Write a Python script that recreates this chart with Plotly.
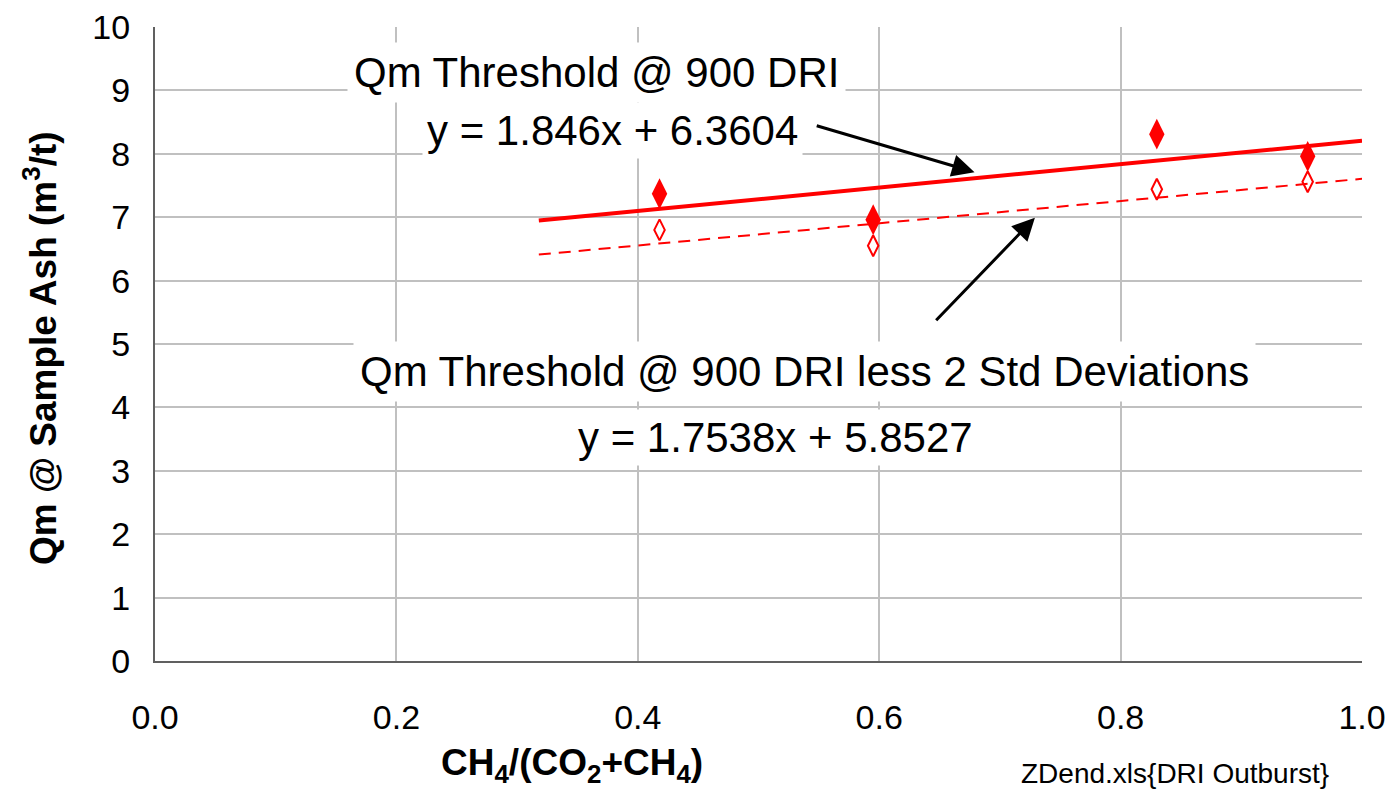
import plotly.graph_objects as go

# data
ratio_x = [0.418, 0.595, 0.830, 0.955]
qm_threshold = [7.37, 6.96, 8.31, 7.96]
qm_less_2sd = [6.80, 6.55, 7.44, 7.56]

trend_x = [0.318, 1.0]
trend_solid_y = [6.947, 8.206]
trend_dash_y = [6.410, 7.606]

x_ticks = [0.0, 0.2, 0.4, 0.6, 0.8, 1.0]
y_ticks = list(range(0, 11))

FONT = "Liberation Sans, Arial, sans-serif"
RED = "#ff0000"

# page body has an 8px margin; figure sized so the plot lands where the reference has it
OFF = 8
W, H = 1395 - OFF, 789 - OFF
L, R, T, B = 155 - OFF, 33, 27 - OFF, 128
pw, ph = W - L - R, H - T - B


def px_x(p):
    return (p - OFF - L) / pw


def px_y(p):
    return (H - B - (p - OFF)) / ph


fig = go.Figure()
fig.add_trace(go.Scatter(x=trend_x, y=trend_solid_y, mode="lines",
                         line=dict(color=RED, width=4), showlegend=False, hoverinfo="skip"))
fig.add_trace(go.Scatter(x=trend_x, y=trend_dash_y, mode="lines",
                         line=dict(color=RED, width=2, dash="12px,8px"), showlegend=False, hoverinfo="skip"))
fig.add_trace(go.Scatter(x=ratio_x, y=qm_threshold, mode="markers",
                         marker=dict(symbol="diamond-tall", size=22, color=RED, line=dict(width=0)),
                         showlegend=False))
fig.add_trace(go.Scatter(x=ratio_x, y=qm_less_2sd, mode="markers",
                         marker=dict(symbol="diamond-tall-open", size=15, color=RED, line=dict(width=2, color=RED)),
                         showlegend=False))

ann_font = dict(family=FONT, size=42, color="black")
annotations = [
    dict(x=0.366, y=9.29, text="Qm Threshold @ 900 DRI", showarrow=False, font=ann_font,
         xanchor="center", yanchor="middle", bgcolor="white", borderpad=6),
    dict(x=0.379, y=8.375, text="y = 1.846x + 6.3604", showarrow=False, font=ann_font,
         xanchor="center", yanchor="middle", bgcolor="white", borderpad=4),
    dict(x=0.5385, y=4.56, text="Qm Threshold @ 900 DRI less 2 Std Deviations", showarrow=False, font=ann_font,
         xanchor="center", yanchor="middle", bgcolor="white", borderpad=6),
    dict(x=0.514, y=3.53, text="y = 1.7538x + 5.8527", showarrow=False, font=ann_font,
         xanchor="center", yanchor="middle", bgcolor="white", borderpad=4),
    # arrows
    dict(x=0.679, y=7.71, ax=0.547, ay=8.45, xref="x", yref="y", axref="x", ayref="y",
         text="", showarrow=True, arrowhead=2, arrowsize=1.5, arrowwidth=3, arrowcolor="black"),
    dict(x=0.729, y=6.99, ax=0.646, ay=5.35, xref="x", yref="y", axref="x", ayref="y",
         text="", showarrow=True, arrowhead=2, arrowsize=1.5, arrowwidth=3, arrowcolor="black"),
    # axis titles and source note
    dict(x=px_x(572), y=px_y(765), xref="paper", yref="paper", xanchor="center", yanchor="middle",
         text="<b>CH<sub>4</sub>/(CO<sub>2</sub>+CH<sub>4</sub>)</b>", showarrow=False,
         font=dict(family=FONT, size=37, color="black")),
    dict(x=px_x(40), y=px_y(348), xref="paper", yref="paper", xanchor="center", yanchor="middle",
         text="<b>Qm @ Sample Ash (m<sup>3</sup>/t)</b>", showarrow=False, textangle=-90,
         font=dict(family=FONT, size=37, color="black")),
    dict(x=px_x(1175), y=px_y(773), xref="paper", yref="paper", xanchor="center", yanchor="middle",
         text="ZDend.xls{DRI Outburst}", showarrow=False,
         font=dict(family=FONT, size=28, color="black")),
]

fig.update_layout(
    width=W, height=H,
    margin=dict(l=L, r=R, t=T, b=B, autoexpand=False),
    paper_bgcolor="white", plot_bgcolor="white",
    font=dict(family=FONT, size=34, color="black"),
    annotations=annotations,
    xaxis=dict(range=[0, 1], tickvals=x_ticks, tickformat=".1f", automargin=False,
               showgrid=True, gridcolor="#c0c0c0", gridwidth=2,
               showline=True, linecolor="#606060", linewidth=2, zeroline=False,
               ticks="", ticklabelstandoff=25, ticklabeloverflow="allow",
               tickfont=dict(family=FONT, size=34)),
    yaxis=dict(range=[0, 10], tickvals=y_ticks, automargin=False,
               showgrid=True, gridcolor="#c0c0c0", gridwidth=2,
               showline=True, linecolor="#606060", linewidth=2, zeroline=False,
               ticks="", ticklabelstandoff=16, ticklabeloverflow="allow",
               tickfont=dict(family=FONT, size=34)),
)

fig.write_html("out.html")
